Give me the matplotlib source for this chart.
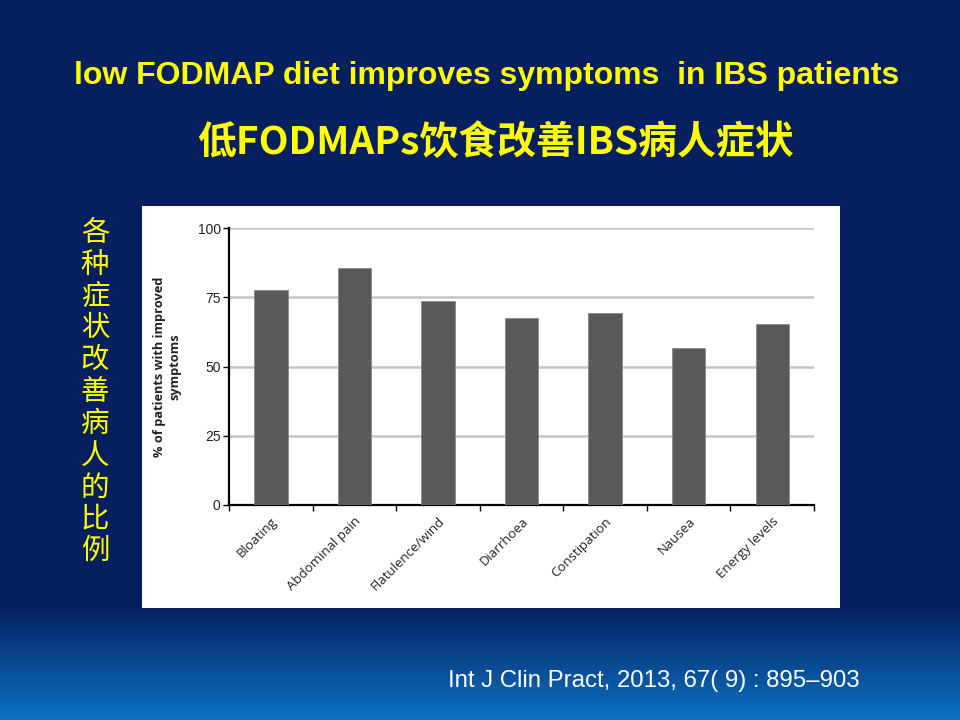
import numpy as np
import matplotlib.pyplot as plt
from matplotlib.patches import Rectangle
from matplotlib.colors import to_rgb

# data
symptoms = ["Bloating", "Abdominal pain", "Flatulence/wind", "Diarrhoea",
            "Constipation", "Nausea", "Energy levels"]
improved = [77.5, 85.5, 73.6, 67.5, 69.2, 56.5, 65.3]
yticks = [0, 25, 50, 75, 100]

title_en = "low FODMAP diet improves symptoms  in IBS patients"
title_cn = "低FODMAPs饮食改善IBS病人症状"
side_label = "各种症状改善病人的比例"
citation = "Int J Clin Pract, 2013, 67( 9) : 895–903"

fig = plt.figure(figsize=(9.6, 7.2), dpi=100)

# slide background: dark navy with a blue gradient at the bottom
bg = fig.add_axes([0, 0, 1, 1], zorder=-10)
top = np.array(to_rgb("#061f5e"))
bot = np.array(to_rgb("#0b72c4"))
rows = np.arange(720)
t = np.clip((rows - 605) / (720 - 605), 0, 1)[:, None]
grad = top * (1 - t) + bot * t
bg.imshow(grad[:, None, :].repeat(4, axis=1), aspect="auto", extent=[0, 1, 0, 1])
bg.axis("off")

# white panel behind the chart
fig.patches.append(Rectangle((142 / 960, 1 - 608 / 720), 698 / 960, 402 / 720,
                             transform=fig.transFigure, facecolor="white",
                             edgecolor="none", zorder=-5))

yellow = "#ffff00"
fig.text(487 / 960, 1 - 76 / 720, title_en, color=yellow, fontsize=23,
         fontweight="bold", family="Liberation Sans", ha="center", va="center")
fig.text(495 / 960, 1 - 142 / 720, title_cn, color=yellow, fontsize=28,
         fontweight="bold", family=["Noto Sans CJK SC", "DejaVu Sans"],
         ha="center", va="center")
fig.text(95 / 960, 1 - 392 / 720, "\n".join(side_label), color=yellow, fontsize=20.5,
         fontweight="medium", family=["Noto Sans CJK SC", "DejaVu Sans"],
         ha="center", va="center", linespacing=1.08)
fig.text(860 / 960, 1 - 681 / 720, citation, color="white", fontsize=17.3,
         family="Liberation Sans", ha="right", va="center")

# the bar chart
ax = fig.add_axes([229 / 960, 1 - 505 / 720, 585 / 960, 277 / 720])
ax.set_facecolor("white")
x = np.arange(len(symptoms))
ax.bar(x, improved, width=0.4, color="#5a5a5a", edgecolor="#8a8a8a",
       linewidth=0.6, zorder=3)
ax.set_xlim(-0.5, len(symptoms) - 0.5)
ax.set_ylim(0, 100)
ax.set_yticks(yticks)
ax.yaxis.grid(True, color="#c4c4c4", linewidth=1.8, zorder=0)
ax.set_axisbelow(True)
for s in ["top", "right"]:
    ax.spines[s].set_visible(False)
for s in ["left", "bottom"]:
    ax.spines[s].set_linewidth(1.6)
    ax.spines[s].set_color("black")
ax.set_xticks(np.arange(len(symptoms) + 1) - 0.5)
ax.set_xticklabels([])
ax.set_xticks(x, minor=True)
ax.set_xticklabels(symptoms, minor=True, rotation=45, ha="right",
                   rotation_mode="anchor", fontsize=9.5, family="Open Sans",
                   color="#222222")
ax.tick_params(axis="x", which="minor", length=0, pad=7)
ax.tick_params(axis="x", which="major", length=4, width=1, direction="out")
ax.tick_params(axis="y", length=4, width=1, labelsize=10, pad=2,
               labelcolor="#222222")
for lab in ax.get_yticklabels():
    lab.set_family("Liberation Sans")
ax.set_ylabel("% of patients with improved\nsymptoms", fontsize=9.2,
              fontweight="bold", family="Open Sans", labelpad=12, color="#222222")

fig.savefig("out.png", dpi=100)
